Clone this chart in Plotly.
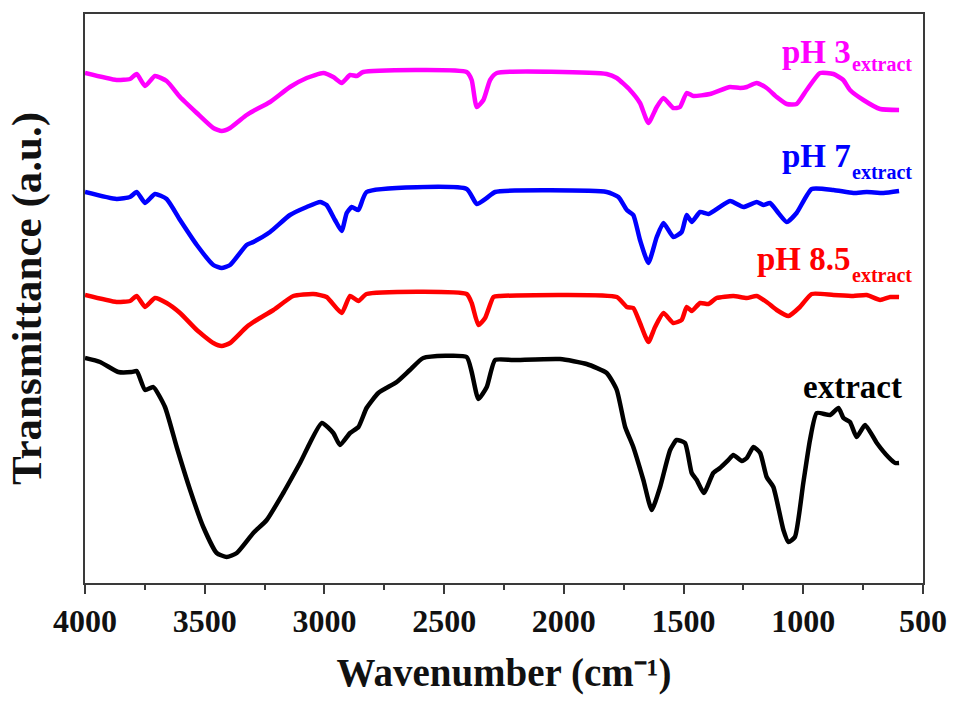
import plotly.graph_objects as go

# FTIR spectra (stacked, arbitrary transmittance units)
wn_ph3 = [4000, 3868, 3812, 3784, 3749, 3708, 3659, 3603, 3533, 3464,
          3429, 3394, 3325, 3297, 3227, 3144, 3074, 3005, 2963, 2928,
          2893, 2865, 2838, 2406, 2385, 2364, 2336, 2308, 2280, 1821,
          1779, 1724, 1682, 1647, 1612, 1584, 1543, 1515, 1487, 1459,
          1390, 1306, 1264, 1236, 1195, 1153, 1111, 1069, 1028, 986,
          930, 874, 833, 805, 749, 679, 600]
t_ph3 = [510, 503, 504, 509, 497, 507, 502, 486, 470, 455,
         452, 455, 468, 472, 481, 496, 505, 510, 506, 500,
         508, 507, 511, 511, 503, 476, 483, 503, 510, 509,
         505, 493, 480, 460, 476, 485, 475, 476, 490, 487,
         489, 496, 495, 496, 500, 495, 486, 479, 479, 493,
         510, 509, 503, 493, 483, 474, 473]

wn_ph7 = [4000, 3868, 3812, 3784, 3749, 3708, 3659, 3603, 3533, 3464,
          3429, 3394, 3325, 3297, 3227, 3144, 3074, 3018, 2991, 2956,
          2928, 2907, 2886, 2858, 2824, 2406, 2364, 2322, 2287, 1821,
          1772, 1737, 1710, 1682, 1647, 1612, 1584, 1543, 1508, 1487,
          1466, 1431, 1396, 1306, 1250, 1195, 1167, 1139, 1104, 1069,
          1028, 965, 874, 791, 735, 665, 600]
t_ph7 = [391, 384, 386, 391, 380, 389, 384, 363, 338, 318,
         315, 318, 338, 341, 351, 368, 376, 381, 378, 363,
         352, 370, 376, 373, 391, 394, 379, 385, 391, 391,
         386, 373, 368, 343, 320, 346, 360, 346, 351, 368,
         361, 371, 369, 382, 376, 381, 378, 380, 370, 361,
         370, 394, 393, 390, 391, 390, 392]

wn_ph85 = [4000, 3868, 3812, 3784, 3749, 3708, 3659, 3603, 3533, 3464,
           3429, 3394, 3325, 3283, 3213, 3130, 3046, 2991, 2928, 2893,
           2858, 2824, 2406, 2385, 2357, 2329, 2294, 2266, 1779, 1737,
           1710, 1682, 1647, 1619, 1584, 1543, 1508, 1487, 1466, 1431,
           1396, 1362, 1292, 1236, 1195, 1153, 1111, 1062, 1014, 965,
           874, 791, 735, 679, 637, 600]
t_ph85 = [288, 281, 282, 287, 276, 285, 280, 270, 253, 240,
          237, 240, 256, 263, 273, 287, 289, 286, 270, 287,
          282, 289, 289, 280, 258, 265, 286, 287, 286, 276,
          275, 260, 241, 256, 270, 260, 263, 276, 272, 280,
          279, 285, 287, 285, 287, 281, 273, 267, 276, 289,
          288, 287, 288, 283, 286, 286]

wn_ext = [4000, 3937, 3861, 3805, 3784, 3749, 3715, 3666, 3617, 3561,
          3506, 3450, 3408, 3366, 3297, 3241, 3172, 3102, 3011, 2963,
          2935, 2893, 2858, 2824, 2775, 2698, 2643, 2587, 2406, 2385,
          2357, 2322, 2287, 2211, 2016, 1905, 1821, 1779, 1744, 1710,
          1668, 1633, 1598, 1556, 1529, 1494, 1466, 1445, 1415, 1376,
          1348, 1313, 1292, 1257, 1236, 1208, 1180, 1153, 1125, 1083,
          1062, 1035, 1000, 972, 944, 888, 853, 832, 805, 777,
          742, 693, 645, 616, 600]
t_ext = [225, 221, 211, 211, 212, 193, 196, 176, 136, 93,
         56, 30, 26, 30, 50, 63, 90, 120, 160, 150,
         138, 150, 156, 175, 190, 201, 213, 225, 226, 211,
         184, 196, 223, 223, 224, 219, 210, 193, 156, 136,
         103, 73, 96, 133, 143, 140, 110, 103, 90, 110,
         115, 123, 128, 122, 125, 136, 130, 106, 96, 53,
         41, 46, 100, 143, 170, 168, 175, 165, 161, 146,
         158, 140, 126, 120, 120]

x_ticks = [4000, 3500, 3000, 2500, 2000, 1500, 1000, 500]
x_ticklabels = ["4000", "3500", "3000", "2500", "2000", "1500", "1000", "500"]

# label text, subscript, x, y
series = [
    ("pH 3", "extract", wn_ph3, t_ph3, "#FF00FF", 531, 519),
    ("pH 7", "extract", wn_ph7, t_ph7, "#0000FF", 427, 411),
    ("pH 8.5", "extract", wn_ph85, t_ph85, "#FF0000", 324, 308),
    ("extract", "", wn_ext, t_ext, "#000000", 196, None),
]

FONT = "Liberation Serif"
fig = go.Figure()
for name, sub, x, y, color, _, _ in series:
    fig.add_trace(go.Scatter(
        x=x, y=y, mode="lines", name=name + " " + sub,
        line=dict(color=color, width=4.5, shape="spline", smoothing=0.5),
        showlegend=False,
    ))

for name, sub, _, _, color, y_main, y_sub in series:
    if sub:
        fig.add_annotation(
            x=793, y=y_main, xref="x", yref="y", text="<b>" + name + "</b>",
            showarrow=False, xanchor="right", yanchor="middle",
            font=dict(family=FONT, size=33, color=color),
        )
        fig.add_annotation(
            x=803, y=y_sub, xref="x", yref="y", text="<b>" + sub + "</b>",
            showarrow=False, xanchor="left", yanchor="middle",
            font=dict(family=FONT, size=20, color=color),
        )
    else:
        fig.add_annotation(
            x=578, y=y_main, xref="x", yref="y", text="<b>" + name + "</b>",
            showarrow=False, xanchor="right", yanchor="middle",
            font=dict(family=FONT, size=33, color=color),
        )

fig.update_layout(
    width=955, height=707,
    margin=dict(l=85, r=32, t=14, b=124, autoexpand=False),
    plot_bgcolor="white", paper_bgcolor="white",
    font=dict(family=FONT, color="#111111"),
)
fig.update_xaxes(
    range=[4000, 500], tickvals=x_ticks,
    ticktext=["<b>" + s + "</b>" for s in x_ticklabels],
    showline=True, mirror=True, linecolor="#3a3a3a", linewidth=2,
    ticks="outside", ticklen=9, tickwidth=2, tickcolor="#3a3a3a",
    minor=dict(dtick=250, tick0=0, ticks="outside", ticklen=5, tickwidth=2,
               tickcolor="#3a3a3a", showgrid=False),
    showgrid=False, zeroline=False,
    tickfont=dict(family=FONT, size=32, color="#111111"),
    title=dict(text="<b>Wavenumber (cm\u207b\u00b9)</b>", standoff=20,
               font=dict(family=FONT, size=39, color="#111111")),
)
fig.update_yaxes(
    range=[0, 569], showticklabels=False, ticks="",
    showline=True, mirror=True, linecolor="#3a3a3a", linewidth=2,
    showgrid=False, zeroline=False,
    title=dict(text="<b>Transmittance (a.u.)</b>", standoff=28,
               font=dict(family=FONT, size=43, color="#111111")),
)

fig.write_html("out.html")
